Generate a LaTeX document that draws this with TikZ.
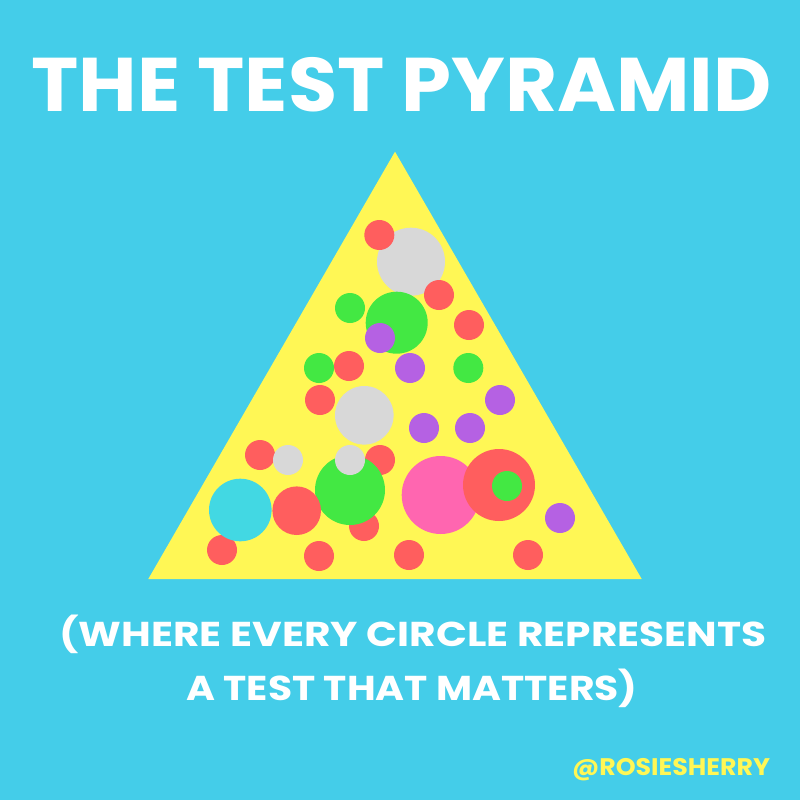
\documentclass[tikz,border=0pt]{standalone}
\usepackage{fontspec}
\usepackage{graphicx}
\setmainfont{Poppins}[UprightFont=* Bold]
\definecolor{bg}{HTML}{44CDE9}
\definecolor{pyr}{HTML}{FFF755}
\definecolor{cred}{HTML}{FF5E5E}
\definecolor{cgray}{HTML}{D8D8D8}
\definecolor{cgreen}{HTML}{43E843}
\definecolor{cpurple}{HTML}{B561E3}
\definecolor{cpink}{HTML}{FF66B0}
\definecolor{ccyan}{HTML}{42D8E3}
\newcommand{\fitw}[2]{\resizebox{#1}{\height}{#2}}
\begin{document}
\begin{tikzpicture}[x=1pt,y=-1pt,
  dot/.style={circle,inner sep=0pt,minimum size=#1*2pt},
  rd/.style={dot=#1,fill=cred},
  gy/.style={dot=#1,fill=cgray},
  gn/.style={dot=#1,fill=cgreen},
  pu/.style={dot=#1,fill=cpurple},
  pk/.style={dot=#1,fill=cpink},
  cy/.style={dot=#1,fill=ccyan},
  txt/.style={text=white,inner sep=0pt,anchor=base}]
\fill[bg] (0,0) rectangle (800,800);
\useasboundingbox (0,0) rectangle (800,800);
% pyramid
\fill[pyr] (395,151.7) -- (641.7,579) -- (148.3,579) -- cycle;
% circles (back to front)
\node[gy=34] (c1) at (411,261.7) {};
\node[rd=15] (c2) at (379.3,235) {};
\node[rd=15] (c3) at (439,295) {};
\node[gn=15] (c4) at (350,308) {};
\node[gn=31] (c5) at (396.7,322.7) {};
\node[pu=15] (c6) at (380,338) {};
\node[rd=15] (c7) at (469,325) {};
\node[gn=15] (c8) at (319,368) {};
\node[rd=15] (c9) at (349,366) {};
\node[pu=15] (c10) at (410,368) {};
\node[gn=15] (c11) at (468.3,368) {};
\node[rd=15] (c12) at (320,400) {};
\node[gy=29.3] (c13) at (364.3,415.3) {};
\node[pu=15] (c14) at (500,400) {};
\node[pu=15] (c15) at (424,428) {};
\node[pu=15] (c16) at (470,428) {};
\node[rd=15] (c17) at (260,455) {};
\node[gy=15] (c18) at (288,460) {};
\node[rd=15] (c19) at (380,460) {};
\node[rd=15] (c20) at (364,526) {};
\node[gn=35] (c21) at (350,490) {};
\node[gy=15] (c22) at (350,460) {};
\node[rd=15] (c25) at (222,550) {};
\node[cy=31.3] (c23) at (240.3,510) {};
\node[rd=24.3] (c24) at (296.7,510.7) {};
\node[pk=39] (c26) at (440.7,495) {};
\node[rd=36] (c27) at (499,485) {};
\node[gn=15] (c28) at (507,486) {};
\node[pu=15] (c29) at (560,518) {};
\node[rd=15] (c30) at (319,556) {};
\node[rd=15] (c31) at (409,555) {};
\node[rd=15] (c32) at (528,555) {};
% texts
\node[txt,font=\fontsize{76}{76}\selectfont] (title) at (401.7,111) {\fitw{740pt}{THE TEST PYRAMID}};
\node[txt,font=\fontsize{34.5}{34.5}\selectfont] (sub1) at (413,646) {\fitw{707pt}{(WHERE EVERY CIRCLE REPRESENTS}};
\node[txt,font=\fontsize{34.5}{34.5}\selectfont] (sub2) at (412,700) {\fitw{451pt}{A TEST THAT MATTERS)}};
\node[txt,text=pyr,font=\fontsize{24}{24}\selectfont] (handle) at (671,775) {\fitw{198pt}{@ROSIESHERRY}};
\end{tikzpicture}
\end{document}
